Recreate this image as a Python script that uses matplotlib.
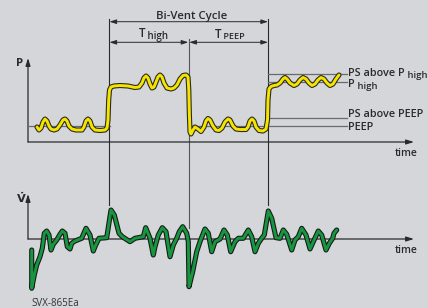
import matplotlib
matplotlib.use("Agg")
import matplotlib.pyplot as plt
import matplotlib.patheffects as pe

# ---- data (time in arbitrary units from the axis origin) ----
pressure_time = [9, 11, 13, 15, 17, 19, 21, 23, 26, 29, 32, 35, 37, 39, 41, 44, 48, 54, 56, 58,
                 60, 62, 64, 67, 72, 77, 79, 80, 80.7, 81.5, 83, 86, 92, 100, 107, 111, 114, 116,
                 118, 120, 122, 124, 126, 128, 130, 132, 134, 136, 139, 143, 146, 149, 152, 155,
                 158, 160, 160.8, 161.3, 162, 163, 165, 167, 170, 173, 176, 178, 180, 182, 185,
                 188, 191, 194, 197, 200, 202, 205, 208, 212, 218, 220, 222, 224, 226, 228, 231,
                 235, 238, 239.5, 240, 241, 243, 246, 249, 252, 255, 257, 259, 262, 266, 269, 272,
                 275, 278, 281, 284, 287, 290, 293, 296, 299, 302, 305, 308, 311]
pressure_value = [15, 12, 14, 20, 23, 21, 16, 13, 12, 13, 17, 22, 23, 21, 16, 13, 12, 12, 15, 21,
                  23, 21, 15, 12, 11.5, 12, 14, 22, 42, 52, 55, 56, 56.5, 56, 54.5, 55, 59, 64,
                  66, 64, 58, 54, 55, 60, 65, 67, 65, 59, 54, 53, 54, 57, 63, 66.5,
                  67, 65, 52, 30, 10, 8, 12, 15, 13, 10.5, 15, 21, 23.5, 22, 16,
                  12, 11.5, 14, 20, 23, 22, 16, 13, 12.5, 12.5, 15, 21, 23, 21, 15, 11.5,
                  11, 13, 22, 42, 53, 55.5, 56.5, 57, 59, 63, 64.5, 63, 59, 56.5, 58, 62,
                  64.5, 63, 59, 56.5, 58, 62, 64.5, 63, 59, 56.5, 58, 63, 67]

flow_time = [3.7, 3.7, 6.3, 8.7, 12, 14.3, 16.3, 18.7, 21, 23, 25.3, 28.7, 32, 34.3, 37, 39.3, 42,
             43.7, 47, 53.7, 58, 62, 65.3, 67.7, 71, 78.7, 83, 86.3, 91, 94.3, 102, 107, 115.3,
             117.7, 122, 125.3, 127, 130.3, 134.3, 138, 142, 145.3, 148.7, 151.3, 154.7, 158.7,
             160.3, 161, 164.7, 168.7, 172, 177, 180.3, 183.7, 187, 192, 196, 199.3, 202.7, 207,
             210.3, 215.3, 220.3, 223.7, 227, 230.3, 233.7, 236.3, 240.3, 243.7, 248, 252, 255.3,
             258.7, 263.7, 267, 270.3, 273.7, 278, 282, 285.3, 290.3, 293.7, 298, 301.3, 304.7,
             306, 308.7]
flow_value = [-11, -49.3, -36, -26, -17.7, -9.3, 5.7, 8, 4, -11, -5.3, -1, 4.7, 8, 5.7, -7.7, -10,
              -4.3, -2, 0.7, 10.7, 4, -12, -6, 0.7, 1.3, 29, 24, 5.7, 2.3, -2.7, 0.7, 2.3,
              11.3, 0.7, -16, -7.7, 4, 11.3, 7.3, -17.7, -6, 0.7, 7.3, 12.3, 5.7,
              -2.7, -47.7, -32.7, -12.7, -2.7, 10, 5.7, -12.7, -2.7, 0, 9, 4, -12.7, -2.7,
              0.7, 0.7, 9, 2.3, -12.7, -4.3, 0.7, 4, 28, 20.7, 1.3, 0.7, 9,
              4.7, -11, -1, 2.3, 10.7, 4, -10, -2.7, 8, 4, -11, -4.3, 0.7,
              5.7, 9]

level_names = ["PS above P", "P", "PS above PEEP", "PEEP"]
level_subs = ["high", "high", "", ""]
level_values = [68.5, 60, 24, 16]

cycle_label = "Bi-Vent Cycle"
phase_main = ["T", "T"]
phase_sub = ["high", "PEEP"]
figure_code = "SVX-865Ea"

# ---- layout ----
W, H = 428, 308
BG = "#d4d6da"
INK = "#2a2a2a"
fig = plt.figure(figsize=(W / 100, H / 100), dpi=100, facecolor=BG)

ov = fig.add_axes([0, 0, 1, 1])
ov.set_xlim(0, W)
ov.set_ylim(H, 0)
ov.axis("off")
ov.set_facecolor(BG)

x0 = 28
p_base, p_top = 142, 58
f_base = 239

def px_axes(left, right, top, bottom):
    return fig.add_axes([left / W, 1 - bottom / H, (right - left) / W, (bottom - top) / H])

ax_p = px_axes(x0, 414, p_top, p_base)
ax_p.set_xlim(0, 414 - x0)
ax_p.set_ylim(0, p_base - p_top)
ax_p.axis("off")
ax_p.patch.set_alpha(0)

ax_f = px_axes(x0, 414, 194, 295)
ax_f.set_xlim(0, 414 - x0)
ax_f.set_ylim(-(295 - f_base), f_base - 194)
ax_f.axis("off")
ax_f.patch.set_alpha(0)

FONT = ["Open Sans", "DejaVu Sans"]

def arrow(ax, a, b, lw=0.9, color=INK, style="-|>", hl=0.45, hw=0.14):
    ax.annotate("", xy=b, xytext=a,
                arrowprops=dict(arrowstyle=f"{style},head_length={hl},head_width={hw}",
                                lw=lw, color=color, shrinkA=0, shrinkB=0),
                zorder=3)

arrow(ov, (x0, p_base), (x0, p_top))
arrow(ov, (x0, p_base), (414, p_base))
arrow(ov, (x0, f_base), (x0, 194))
arrow(ov, (x0, f_base), (414, f_base))

ov.text(16, 66, "P", fontsize=8.2, fontweight="bold", color=INK, family=FONT)
ov.text(16, 203, r"$\mathbf{\dot{V}}$", fontsize=8.2, color=INK)
ov.text(395, 156, "time", fontsize=7.5, fontweight="semibold", color=INK, family=FONT)
ov.text(395, 253, "time", fontsize=7.5, fontweight="semibold", color=INK, family=FONT)

# vertical marker lines
ov.plot([109.5, 109.5], [19, 205], color=INK, lw=0.8, zorder=2)
ov.plot([188.8, 188.8], [39, 228], color="#555555", lw=0.8, zorder=2)
ov.plot([268, 268], [19, 205], color=INK, lw=0.8, zorder=2)

# interval arrows
arrow(ov, (109.5, 21.7), (268, 21.7), lw=0.7, style="<|-|>", hl=0.4, hw=0.13)
arrow(ov, (109.5, 42.3), (188.3, 42.3), lw=0.7, style="<|-|>", hl=0.4, hw=0.13)
arrow(ov, (189.3, 42.3), (268, 42.3), lw=0.7, style="<|-|>", hl=0.4, hw=0.13)
ov.text(191.5, 19, cycle_label, fontsize=8.2, fontweight="semibold", color=INK, family=FONT,
        ha="center", va="baseline")

def main_sub(x, y, main, sub, size=8, subsize=6.5, dy=0.5):
    t = ov.text(x, y, main, fontsize=size, fontweight="semibold", color=INK, family=FONT,
                va="baseline")
    if sub:
        ov.annotate(" " + sub,
                    xy=(1, 0), xycoords=t, xytext=(0, dy), textcoords="offset points",
                    fontsize=subsize, fontweight="semibold", color=INK, family=FONT,
                    va="baseline", ha="left")
    return t

main_sub(139, 37, phase_main[0], phase_sub[0], size=8.5, subsize=7, dy=0.5)
main_sub(215, 37.5, phase_main[1], phase_sub[1], size=8.5, subsize=6.5, dy=0.8)

# level lines (in pressure data coordinates)
GRAY = "#6a6a6a"
ax_p.plot([0, 109.5 - x0], [level_values[3]] * 2, color=GRAY, lw=0.9, zorder=1, clip_on=False)
ax_p.plot([188.8 - x0, 347 - x0], [level_values[3]] * 2, color=GRAY, lw=0.9, zorder=1, clip_on=False)
for v in level_values[:3]:
    ax_p.plot([268 - x0, 347 - x0], [v, v], color=GRAY, lw=0.9, zorder=1, clip_on=False)

label_baselines = [76, 86.7, 117.3, 130]
for name, sub, yb in zip(level_names, level_subs, label_baselines):
    main_sub(348, yb, name, sub, size=7.8, subsize=6.8, dy=0.4)

# traces
outline = [pe.withStroke(linewidth=3.7, foreground="#2b2b1a")]
ax_p.plot(pressure_time, pressure_value, color="#f5e400", lw=2.1, clip_on=False,
          solid_joinstyle="round", solid_capstyle="round", path_effects=outline, zorder=5)
outline_g = [pe.withStroke(linewidth=3.7, foreground="#1a1a1a")]
ax_f.plot(flow_time, flow_value, color="#16973f", lw=2.1, clip_on=False,
          solid_joinstyle="round", solid_capstyle="round", path_effects=outline_g, zorder=5)

ov.text(31.5, 305.5, figure_code, fontsize=7, color="#333333", family=FONT, va="baseline")

fig.savefig("out.png", dpi=100, facecolor=BG)
